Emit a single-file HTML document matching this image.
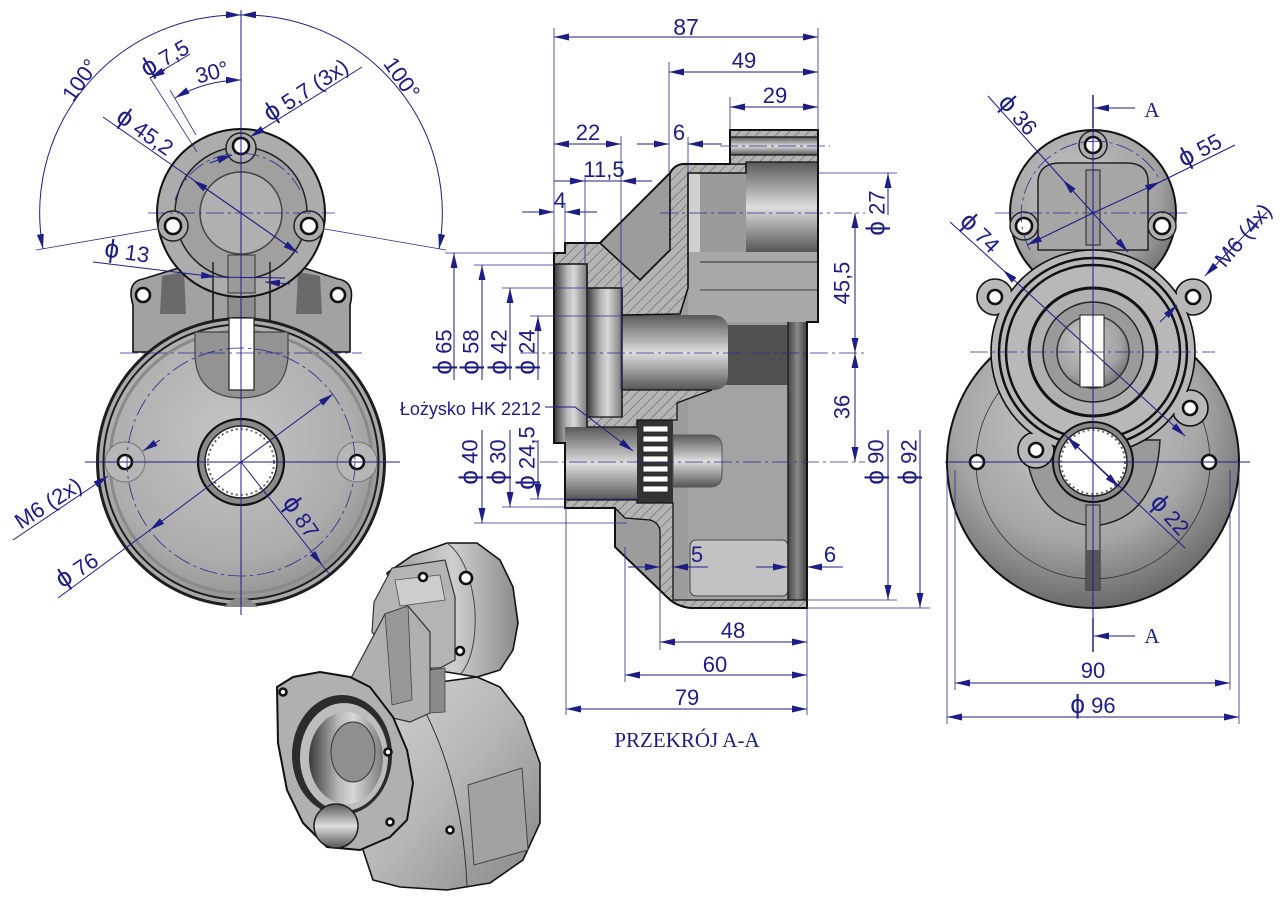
<!DOCTYPE html>
<html><head><meta charset="utf-8"><style>
html,body{margin:0;padding:0;background:#fff}
svg{display:block}
text{font-family:"Liberation Sans","DejaVu Sans",sans-serif;fill:#1d1d85;font-size:22px}
.p{font-size:26px}
.sf{font-family:"Liberation Serif",serif;font-size:21px}
.d{stroke:#1d1d85;stroke-width:1;fill:none}
.e{stroke:#2c2c8c;stroke-width:0.8;fill:none}
.c{stroke:#2c2c8c;stroke-width:0.8;fill:none;stroke-dasharray:18 4 3 4}
.k{stroke:#111;stroke-width:1.6}
.ho{fill:#fff;stroke:#111;stroke-width:2.6}
</style></head><body>
<svg width="1280" height="905" viewBox="0 0 1280 905" xmlns="http://www.w3.org/2000/svg">
<defs>
<marker id="a" viewBox="0 0 15 7" refX="15" refY="3.5" markerWidth="15" markerHeight="7" markerUnits="userSpaceOnUse" orient="auto-start-reverse"><path d="M0,0L15,3.5L0,7z" fill="#1d1d85"/></marker>
<pattern id="h" width="7" height="7" patternUnits="userSpaceOnUse" patternTransform="rotate(45)"><rect width="7" height="7" fill="#b4b4b4"/><line x1="0" y1="0" x2="0" y2="7" stroke="#4a4a4a" stroke-width="0.9"/></pattern>
<radialGradient id="gface" cx="45%" cy="40%" r="65%"><stop offset="0" stop-color="#c4c4c4"/><stop offset="0.7" stop-color="#adadad"/><stop offset="1" stop-color="#8e8e8e"/></radialGradient>
<radialGradient id="gbig" cx="45%" cy="35%" r="70%"><stop offset="0" stop-color="#cbcbcb"/><stop offset="0.6" stop-color="#a6a6a6"/><stop offset="1" stop-color="#5e5e5e"/></radialGradient>
<radialGradient id="gsm" cx="40%" cy="35%" r="70%"><stop offset="0" stop-color="#c4c4c4"/><stop offset="0.7" stop-color="#a2a2a2"/><stop offset="1" stop-color="#707070"/></radialGradient>
<linearGradient id="gv" x1="0" y1="0" x2="0" y2="1"><stop offset="0" stop-color="#5a5a5a"/><stop offset="0.35" stop-color="#b5b5b5"/><stop offset="0.5" stop-color="#dedede"/><stop offset="0.75" stop-color="#9a9a9a"/><stop offset="1" stop-color="#555"/></linearGradient>
<linearGradient id="gh" x1="0" y1="0" x2="1" y2="0"><stop offset="0" stop-color="#3a3a3a"/><stop offset="0.4" stop-color="#b8b8b8"/><stop offset="0.6" stop-color="#d8d8d8"/><stop offset="1" stop-color="#7a7a7a"/></linearGradient>
<linearGradient id="gdk" x1="0" y1="0" x2="1" y2="0"><stop offset="0" stop-color="#444"/><stop offset="0.5" stop-color="#8a8a8a"/><stop offset="1" stop-color="#3a3a3a"/></linearGradient>
<linearGradient id="giso" x1="0" y1="0" x2="1" y2="1"><stop offset="0" stop-color="#d4d4d4"/><stop offset="0.5" stop-color="#b6b6b6"/><stop offset="1" stop-color="#858585"/></linearGradient>
<linearGradient id="giso2" x1="0" y1="0" x2="1" y2="0"><stop offset="0" stop-color="#9a9a9a"/><stop offset="0.5" stop-color="#cfcfcf"/><stop offset="1" stop-color="#8a8a8a"/></linearGradient>
</defs>

<!-- ================= LEFT VIEW ================= -->
<g>
 <path d="M133,352 L133,305 Q126,282 143,279 L185,266 L298,266 L338,279 Q356,282 350,305 L350,352 Z" fill="#a2a2a2" class="k"/>
 <circle cx="143" cy="295" r="7" class="ho"/>
 <circle cx="338" cy="295" r="7" class="ho"/>
 <path d="M162,276 L184,272 L186,314 L160,314 Z" fill="#6a6a6a"/>
 <path d="M320,276 L298,272 L296,314 L322,314 Z" fill="#6a6a6a"/>
 <rect x="213" y="245" width="57" height="85" fill="#a0a0a0" class="k"/>
 <rect x="228" y="245" width="27" height="80" fill="#8e8e8e" stroke="#333" stroke-width="1"/>
 <!-- big disc -->
 <circle cx="241" cy="462" r="145" fill="#1e1e1e"/>
 <circle cx="241" cy="462" r="142" fill="#a9a9a9"/>
 <circle cx="241" cy="462" r="138.5" fill="#1e1e1e"/>
 <circle cx="241" cy="462" r="136.5" fill="url(#gface)"/>
 <circle cx="241" cy="462" r="131" fill="none" stroke="#8a8a8a" stroke-width="3"/>
 <path d="M195,332 L195,356 Q197,397 241,398 Q286,397 288,356 L288,332 Z" fill="#939393" stroke="#444" stroke-width="1.2"/>
 <rect x="229" y="318" width="25" height="72" fill="#fff" stroke="#222" stroke-width="1.2"/>
 <path d="M224,607 Q241,588 258,607 Z" fill="#8a8a8a"/>
 <circle cx="125" cy="462" r="20" fill="#b6b6b6" stroke="#777" stroke-width="1"/>
 <circle cx="357" cy="462" r="20" fill="#b6b6b6" stroke="#777" stroke-width="1"/>
 <circle cx="125" cy="462" r="7" class="ho"/>
 <circle cx="357" cy="462" r="7" class="ho"/>
 <circle cx="241" cy="462" r="43" fill="#8a8a8a" stroke="#111" stroke-width="2.2"/>
 <circle cx="241" cy="462" r="36" fill="#fff" stroke="#222" stroke-width="1.5"/>
 <circle cx="241" cy="462" r="33" fill="none" stroke="#666" stroke-width="2" stroke-dasharray="2 3"/>
 <!-- small disc -->
 <circle cx="241" cy="213" r="84" fill="#acacac" stroke="#111" stroke-width="2"/>
 <circle cx="241" cy="213" r="66" fill="#a0a0a0" stroke="#222" stroke-width="1.5"/>
 <circle cx="241" cy="148" r="15" fill="#acacac" stroke="#222" stroke-width="1.5"/>
 <circle cx="173" cy="226" r="15" fill="#acacac" stroke="#222" stroke-width="1.5"/>
 <circle cx="309" cy="226" r="15" fill="#acacac" stroke="#222" stroke-width="1.5"/>
 <circle cx="241" cy="213" r="41" fill="#b0b0b0" stroke="#444" stroke-width="1.5"/>
 <rect x="228" y="255" width="27" height="38" fill="#9a9a9a" stroke="#333" stroke-width="1"/>
 <path d="M213,262 L213,296 M270,262 L270,296" stroke="#222" stroke-width="1.5"/>
 <circle cx="241" cy="146" r="8" class="ho"/>
 <circle cx="173" cy="226" r="8" class="ho"/>
 <circle cx="309" cy="226" r="8" class="ho"/>
 <!-- centre lines -->
 <line x1="241" y1="10" x2="241" y2="615" class="d" stroke-width="0.9"/>
 <line x1="148" y1="213" x2="335" y2="213" class="c"/>
 <line x1="120" y1="353" x2="362" y2="353" class="c"/>
 <line x1="85" y1="462" x2="400" y2="462" class="d" stroke-width="0.8"/>
 <circle cx="241" cy="462" r="114" class="c"/>
 <path d="M175,200 A68,68 0 0 1 300,190" class="c"/>
 <!-- angle dims -->
 <path d="M43,249 A198,198 0 0 1 241,15" class="d" marker-start="url(#a)" marker-end="url(#a)"/>
 <path d="M439,249 A198,198 0 0 0 241,15" class="d" marker-start="url(#a)" marker-end="url(#a)"/>
 <line x1="157" y1="229" x2="36" y2="250" class="e"/>
 <line x1="325" y1="229" x2="446" y2="250" class="e"/>
 <path d="M175,98 A133,133 0 0 1 241,80" class="d" marker-start="url(#a)" marker-end="url(#a)"/>
 <line x1="196" y1="135" x2="170" y2="90" class="e"/>
 <line x1="190" y1="54" x2="150" y2="78" class="d"/>
 <line x1="150" y1="78" x2="197" y2="152" class="e"/>
 <line x1="165" y1="70" x2="150" y2="78" class="d" marker-end="url(#a)"/>
 <line x1="362" y1="67" x2="250" y2="137" class="d" marker-end="url(#a)"/>
 <line x1="210" y1="163" x2="232" y2="155" class="d" marker-end="url(#a)"/>
 <line x1="103" y1="117" x2="297" y2="252" class="d"/>
 <line x1="241" y1="213" x2="193" y2="180" class="d" marker-end="url(#a)"/>
 <line x1="241" y1="213" x2="298" y2="253" class="d" marker-end="url(#a)"/>
 <line x1="93" y1="262" x2="216" y2="277" class="d" marker-end="url(#a)"/>
 <line x1="290" y1="284" x2="265" y2="282" class="d" marker-end="url(#a)"/>
 <line x1="216" y1="277" x2="285" y2="278" class="d"/>
 <!-- lower dims -->
 <line x1="13" y1="540" x2="108" y2="476" class="d" marker-end="url(#a)"/>
 <line x1="160" y1="440" x2="143" y2="451" class="d" marker-end="url(#a)"/>
 <line x1="58" y1="598" x2="150" y2="530" class="d"/>
 <line x1="241" y1="462" x2="150" y2="530" class="d" marker-end="url(#a)"/>
 <line x1="241" y1="462" x2="333" y2="394" class="d" marker-end="url(#a)"/>
 <line x1="241" y1="462" x2="322" y2="565" class="d" marker-end="url(#a)"/>
 <line x1="322" y1="565" x2="330" y2="575" class="d"/>
 <!-- labels -->
 <text x="80" y="80" dy="0.35em" text-anchor="middle" transform="rotate(-55 80 80)">100°</text>
 <text x="402" y="78" dy="0.35em" text-anchor="middle" transform="rotate(55 402 78)">100°</text>
 <text x="165" y="58" dy="0.35em" text-anchor="middle" transform="rotate(-30 165 58)"><tspan class="p">ϕ</tspan> 7,5</text>
 <text x="212" y="72" dy="0.35em" text-anchor="middle" transform="rotate(-15 212 72)">30°</text>
 <text x="306" y="90" dy="0.35em" text-anchor="middle" transform="rotate(-33 306 90)"><tspan class="p">ϕ</tspan> 5,7  (3x)</text>
 <text x="145" y="132" dy="0.35em" text-anchor="middle" transform="rotate(35 145 132)"><tspan class="p">ϕ</tspan> 45,2</text>
 <text x="127" y="252" dy="0.35em" text-anchor="middle" transform="rotate(8 127 252)"><tspan class="p">ϕ</tspan> 13</text>
 <text x="48" y="503" dy="0.35em" text-anchor="middle" transform="rotate(-33 48 503)">M6  (2x)</text>
 <text x="77" y="570" dy="0.35em" text-anchor="middle" transform="rotate(-33 77 570)"><tspan class="p">ϕ</tspan> 76</text>
 <text x="301" y="517" dy="0.35em" text-anchor="middle" transform="rotate(55 301 517)"><tspan class="p">ϕ</tspan> 87</text>
</g>

<!-- ================= ISO VIEW ================= -->
<g>
 <!-- big body -->
 <path d="M403,703 L433,683 L477,677 L500,687 L523,717 L540,763 L540,823 L523,860 L490,883 L447,890 L400,887 L373,880 L363,850 L363,763 Z" fill="url(#giso)" class="k"/>
 <path d="M413,690 Q462,770 467,886" fill="none" stroke="#333" stroke-width="1"/>
 <path d="M468,785 L522,768 L528,850 L474,865 Z" fill="#a2a2a2" stroke="#444" stroke-width="1"/>
 <!-- top cylinder -->
 <path d="M387,573 L413,555 L447,543 L477,543 L500,560 L513,587 L518,623 L513,650 L500,670 L477,677 L453,673 L420,668 Z" fill="url(#giso2)" class="k"/>
 <path d="M447,543 Q470,560 475,610 Q477,655 460,675" fill="none" stroke="#444" stroke-width="1"/>
 <path d="M392,568 L445,560 L455,597 L455,660 L440,668 L400,668 L372,632 L374,602 Z" fill="#b4b4b4" stroke="#333" stroke-width="1.2"/>
 <path d="M395,580 L440,575 L445,600 L400,606 Z" fill="#cdcdcd" stroke="#555" stroke-width="0.8"/>
 <circle cx="466" cy="578" r="6" class="ho"/>
 <circle cx="423" cy="577" r="4" class="ho"/>
 <circle cx="460" cy="651" r="4" class="ho"/>
 <!-- rib -->
 <path d="M350,680 L385,614 L408,606 L430,632 L430,713 L410,722 L380,715 Z" fill="#b0b0b0" stroke="#333" stroke-width="1.2"/>
 <path d="M385,614 L408,606 L412,700 L392,705 Z" fill="#989898" stroke="#444" stroke-width="0.8"/>
 <path d="M430,670 L445,668 L445,712 L430,713 Z" fill="#8a8a8a" stroke="#444" stroke-width="0.8"/>
 <!-- front flange -->
 <path d="M277,687 L293,677 L320,672 L350,677 L370,687 L393,717 L407,750 L413,783 L407,820 L390,837 L360,850 L327,847 L303,823 L287,790 L278,743 Z" fill="#b0b0b0" stroke="#111" stroke-width="2"/>
 <ellipse cx="342" cy="755" rx="50" ry="60" fill="#2c2c2c"/>
 <ellipse cx="344" cy="757" rx="44" ry="54" fill="#bdbdbd"/>
 <ellipse cx="346" cy="758" rx="37" ry="46" fill="url(#gh)"/>
 <ellipse cx="353" cy="752" rx="22" ry="30" fill="#8f8f8f" stroke="#333" stroke-width="1"/>
 <ellipse cx="336" cy="826" rx="22" ry="22" fill="url(#gv)" stroke="#222" stroke-width="1.5"/>
 <circle cx="283" cy="692" r="3.5" class="ho"/>
 <circle cx="388" cy="752" r="3.5" class="ho"/>
 <circle cx="390" cy="822" r="3.5" class="ho"/>
 <circle cx="450" cy="830" r="3.5" class="ho"/>
</g>

<!-- ================= SECTION VIEW ================= -->
<g>
 <path d="M554,253 L565,253 L565,243 L600,243 L670,173 Q675,164 684,164 L730,164 L730,130 L818,130 L818,322 L807,322 L807,608 L690,608 Q676,606 668,598 L615,547 L615,508 L565,508 L565,443 L554,443 Z" fill="#9c9c9c"/>
 <rect x="730" y="137" width="88" height="18" fill="url(#gv)"/>
 <rect x="746" y="162" width="72" height="90" fill="url(#gv)"/>
 <rect x="688" y="173" width="58" height="80" fill="#9a9a9a"/>
 <rect x="688" y="173" width="12" height="80" fill="#d0d0d0"/>
 <rect x="688" y="252" width="130" height="70" fill="#a8a8a8"/>
 <line x1="700" y1="262" x2="818" y2="262" stroke="#555" stroke-width="1.5"/>
 <line x1="700" y1="290" x2="818" y2="290" stroke="#555" stroke-width="1.2"/>
 <rect x="725" y="325" width="63" height="60" fill="#505050"/>
 <rect x="688" y="385" width="100" height="215" fill="#a3a3a3"/>
 <rect x="690" y="540" width="98" height="56" rx="6" fill="#c2c2c2" stroke="#444" stroke-width="1"/>
 <rect x="788" y="322" width="19" height="278" fill="url(#gdk)"/>
 <rect x="554" y="264" width="33" height="179" fill="url(#gh)"/>
 <rect x="587" y="288" width="35" height="129" fill="url(#gh)"/>
 <path d="M622,315 L712,315 Q728,315 728,330 L728,375 Q728,390 712,390 L622,390 Z" fill="url(#gv)"/>
 <rect x="565" y="427" width="72" height="73" fill="url(#gv)"/>
 <rect x="637" y="420" width="36" height="83" fill="#333"/>
 <g fill="#fff" stroke="#222" stroke-width="0.8">
  <rect x="643" y="426" width="25" height="6"/><rect x="643" y="436" width="25" height="6"/><rect x="643" y="446" width="25" height="6"/><rect x="643" y="456" width="25" height="6"/><rect x="643" y="466" width="25" height="6"/><rect x="643" y="476" width="25" height="6"/><rect x="643" y="486" width="25" height="6"/>
 </g>
 <path d="M673,435 L710,435 Q722,435 722,448 L722,474 Q722,487 710,487 L673,487 Z" fill="url(#gv)" stroke="#555" stroke-width="1"/>
 <!-- hatched -->
 <path d="M554,253 L565,253 L565,243 L600,243 L640,280 L670,250 L670,173 Q675,164 684,164 L746,164 L746,173 L688,173 L688,288 L680,314 L622,315 L622,288 L587,288 L587,264 L554,264 Z" fill="url(#h)" class="k" stroke-width="1.3"/>
 <path d="M730,130 L818,130 L818,137 L730,137 Z" fill="url(#h)" stroke="#111" stroke-width="1.2"/>
 <path d="M730,155 L818,155 L818,162 L746,162 L746,164 L730,164 Z" fill="url(#h)" stroke="#111" stroke-width="1.2"/>
 <path d="M622,390 L712,390 Q690,398 677,403 L677,420 L637,420 L637,427 L587,427 L587,417 L622,417 Z" fill="url(#h)" stroke="#111" stroke-width="1.3"/>
 <path d="M565,500 L637,500 L637,503 L673,503 L673,600 L807,600 L807,608 L690,608 Q676,606 668,598 L660,590 L660,530 Q658,522 650,520 L625,518 L615,508 L565,508 Z" fill="url(#h)" stroke="#111" stroke-width="1.3"/>
 <path d="M554,253 L565,253 L565,243 L600,243 L670,173 Q675,164 684,164 L730,164 L730,130 L818,130 L818,322 L807,322 L807,608 L690,608 Q676,606 668,598 L615,547 L615,508 L565,508 L565,443 L554,443 Z" fill="none" stroke="#111" stroke-width="2"/>
 <line x1="587" y1="264" x2="587" y2="427" stroke="#222" stroke-width="1.5"/>
 <line x1="622" y1="288" x2="622" y2="417" stroke="#222" stroke-width="1.5"/>
 <line x1="788" y1="322" x2="788" y2="600" stroke="#222" stroke-width="1.5"/>
 <!-- top dims -->
 <line x1="554" y1="28" x2="554" y2="253" class="e"/>
 <line x1="818" y1="28" x2="818" y2="130" class="e"/>
 <line x1="669" y1="62" x2="669" y2="172" class="e"/>
 <line x1="730" y1="97" x2="730" y2="130" class="e"/>
 <line x1="621" y1="136" x2="621" y2="390" class="e"/>
 <line x1="688" y1="137" x2="688" y2="173" class="e"/>
 <line x1="585" y1="175" x2="585" y2="264" class="e"/>
 <line x1="565" y1="205" x2="565" y2="243" class="e"/>
 <line x1="554" y1="37" x2="818" y2="37" class="d" marker-start="url(#a)" marker-end="url(#a)"/>
 <line x1="669" y1="72" x2="818" y2="72" class="d" marker-start="url(#a)" marker-end="url(#a)"/>
 <line x1="730" y1="107" x2="818" y2="107" class="d" marker-start="url(#a)" marker-end="url(#a)"/>
 <line x1="554" y1="144" x2="621" y2="144" class="d" marker-start="url(#a)" marker-end="url(#a)"/>
 <line x1="637" y1="144" x2="669" y2="144" class="d" marker-end="url(#a)"/>
 <line x1="722" y1="144" x2="688" y2="144" class="d" marker-end="url(#a)"/>
 <line x1="554" y1="181" x2="585" y2="181" class="d" marker-end="url(#a)"/>
 <line x1="652" y1="181" x2="621" y2="181" class="d" marker-end="url(#a)"/>
 <line x1="585" y1="181" x2="621" y2="181" class="d"/>
 <line x1="522" y1="212" x2="554" y2="212" class="d" marker-end="url(#a)"/>
 <line x1="597" y1="212" x2="565" y2="212" class="d" marker-end="url(#a)"/>
 <text x="686" y="35" text-anchor="middle" style="font-size:23px">87</text>
 <text x="744" y="68" text-anchor="middle">49</text>
 <text x="775" y="103" text-anchor="middle">29</text>
 <text x="588" y="140" text-anchor="middle">22</text>
 <text x="679" y="140" text-anchor="middle">6</text>
 <text x="604" y="177" text-anchor="middle">11,5</text>
 <text x="560" y="208" text-anchor="middle">4</text>
 <!-- centre lines -->
 <line x1="660" y1="213" x2="865" y2="213" class="c"/>
 <line x1="720" y1="146" x2="830" y2="146" class="c"/>
 <line x1="520" y1="353" x2="865" y2="353" class="c"/>
 <line x1="540" y1="462" x2="865" y2="462" class="c"/>
 <!-- left vertical dims -->
 <line x1="445" y1="253" x2="554" y2="253" class="e"/>
 <line x1="474" y1="265" x2="554" y2="265" class="e"/>
 <line x1="502" y1="288" x2="587" y2="288" class="e"/>
 <line x1="530" y1="316" x2="622" y2="316" class="e"/>
 <line x1="454" y1="380" x2="454" y2="253" class="d" marker-end="url(#a)"/>
 <line x1="482" y1="380" x2="482" y2="265" class="d" marker-end="url(#a)"/>
 <line x1="510" y1="380" x2="510" y2="288" class="d" marker-end="url(#a)"/>
 <line x1="538" y1="380" x2="538" y2="316" class="d" marker-end="url(#a)"/>
 <line x1="474" y1="523" x2="627" y2="523" class="e"/>
 <line x1="502" y1="507" x2="567" y2="507" class="e"/>
 <line x1="530" y1="499" x2="637" y2="499" class="e"/>
 <line x1="482" y1="430" x2="482" y2="523" class="d" marker-end="url(#a)"/>
 <line x1="510" y1="430" x2="510" y2="507" class="d" marker-end="url(#a)"/>
 <line x1="538" y1="440" x2="538" y2="499" class="d" marker-end="url(#a)"/>
 <text x="444" y="352" dy="0.35em" text-anchor="middle" transform="rotate(-90 444 352)"><tspan class="p">ϕ</tspan> 65</text>
 <text x="471" y="352" dy="0.35em" text-anchor="middle" transform="rotate(-90 471 352)"><tspan class="p">ϕ</tspan> 58</text>
 <text x="499" y="352" dy="0.35em" text-anchor="middle" transform="rotate(-90 499 352)"><tspan class="p">ϕ</tspan> 42</text>
 <text x="527" y="352" dy="0.35em" text-anchor="middle" transform="rotate(-90 527 352)"><tspan class="p">ϕ</tspan> 24</text>
 <text x="470" y="462" dy="0.35em" text-anchor="middle" transform="rotate(-90 470 462)"><tspan class="p">ϕ</tspan> 40</text>
 <text x="498" y="462" dy="0.35em" text-anchor="middle" transform="rotate(-90 498 462)"><tspan class="p">ϕ</tspan> 30</text>
 <text x="527" y="458" dy="0.35em" text-anchor="middle" transform="rotate(-90 527 458)"><tspan class="p">ϕ</tspan> 24,5</text>
 <polyline points="545,407 575,407 633,451" class="d" marker-end="url(#a)"/>
 <text x="541" y="415" text-anchor="end" style="font-size:18px">Łożysko HK 2212</text>
 <!-- right dims -->
 <line x1="818" y1="173" x2="897" y2="173" class="e"/>
 <line x1="888" y1="215" x2="888" y2="173" class="d" marker-end="url(#a)"/>
 <line x1="855" y1="213" x2="855" y2="353" class="d" marker-start="url(#a)" marker-end="url(#a)"/>
 <line x1="855" y1="353" x2="855" y2="462" class="d" marker-start="url(#a)" marker-end="url(#a)"/>
 <line x1="888" y1="430" x2="888" y2="600" class="d" marker-end="url(#a)"/>
 <line x1="920" y1="430" x2="920" y2="608" class="d" marker-end="url(#a)"/>
 <line x1="807" y1="600" x2="897" y2="600" class="e"/>
 <line x1="807" y1="608" x2="930" y2="608" class="e"/>
 <text x="877" y="213" dy="0.35em" text-anchor="middle" transform="rotate(-90 877 213)"><tspan class="p">ϕ</tspan> 27</text>
 <text x="842" y="283" dy="0.35em" text-anchor="middle" transform="rotate(-90 842 283)">45,5</text>
 <text x="842" y="407" dy="0.35em" text-anchor="middle" transform="rotate(-90 842 407)">36</text>
 <text x="876" y="462" dy="0.35em" text-anchor="middle" transform="rotate(-90 876 462)"><tspan class="p">ϕ</tspan> 90</text>
 <text x="909" y="462" dy="0.35em" text-anchor="middle" transform="rotate(-90 909 462)"><tspan class="p">ϕ</tspan> 92</text>
 <!-- bottom dims -->
 <line x1="566" y1="508" x2="566" y2="715" class="e"/>
 <line x1="625" y1="547" x2="625" y2="682" class="e"/>
 <line x1="660" y1="590" x2="660" y2="650" class="e"/>
 <line x1="807" y1="608" x2="807" y2="715" class="e"/>
 <line x1="628" y1="567" x2="660" y2="567" class="d" marker-end="url(#a)"/>
 <line x1="708" y1="567" x2="673" y2="567" class="d" marker-end="url(#a)"/>
 <line x1="756" y1="567" x2="788" y2="567" class="d" marker-end="url(#a)"/>
 <line x1="843" y1="567" x2="807" y2="567" class="d" marker-end="url(#a)"/>
 <line x1="660" y1="642" x2="807" y2="642" class="d" marker-start="url(#a)" marker-end="url(#a)"/>
 <line x1="625" y1="675" x2="807" y2="675" class="d" marker-start="url(#a)" marker-end="url(#a)"/>
 <line x1="566" y1="709" x2="807" y2="709" class="d" marker-start="url(#a)" marker-end="url(#a)"/>
 <text x="697" y="562" text-anchor="middle">5</text>
 <text x="830" y="562" text-anchor="middle">6</text>
 <text x="733" y="638" text-anchor="middle">48</text>
 <text x="715" y="672" text-anchor="middle">60</text>
 <text x="687" y="705" text-anchor="middle">79</text>
 <text x="687" y="747" text-anchor="middle" class="sf">PRZEKRÓJ A-A</text>
</g>

<!-- ================= RIGHT VIEW ================= -->
<g>
 <circle cx="1093" cy="462" r="146" fill="url(#gbig)" stroke="#111" stroke-width="2"/>
 <circle cx="1093" cy="462" r="117" fill="none" stroke="#333" stroke-width="0.8"/>
 <circle cx="977" cy="462" r="7" class="ho"/>
 <circle cx="1209" cy="462" r="7" class="ho"/>
 <path d="M1025,440 Q1030,520 1093,526 Q1156,520 1160,440 Z" fill="#9a9a9a" stroke="#222" stroke-width="1.5"/>
 <rect x="1086" y="505" width="14" height="85" fill="#9a9a9a" stroke="#222" stroke-width="1"/>
 <rect x="1086" y="550" width="14" height="40" fill="#555"/>
 <!-- upper disc -->
 <circle cx="1093" cy="213" r="83" fill="url(#gsm)" stroke="#111" stroke-width="2"/>
 <path d="M1038,180 Q1040,163 1060,163 L1126,163 Q1147,163 1148,180 L1148,250 L1038,250 Z" fill="#a6a6a6" stroke="#222" stroke-width="1.5"/>
 <rect x="1086" y="170" width="14" height="75" fill="#9a9a9a" stroke="#222" stroke-width="1"/>
 <circle cx="1093" cy="145" r="14" fill="#b0b0b0" stroke="#222" stroke-width="1.5"/>
 <circle cx="1024" cy="226" r="14" fill="#b0b0b0" stroke="#222" stroke-width="1.5"/>
 <circle cx="1162" cy="226" r="14" fill="#b0b0b0" stroke="#222" stroke-width="1.5"/>
 <circle cx="1093" cy="145" r="8" class="ho"/>
 <circle cx="1024" cy="226" r="8" class="ho"/>
 <circle cx="1162" cy="226" r="8" class="ho"/>
 <!-- flange -->
 <g fill="#b8b8b8" stroke="#111" stroke-width="1.6">
  <circle cx="995" cy="297" r="18"/><circle cx="1193" cy="297" r="18"/><circle cx="1190" cy="408" r="18"/><circle cx="1036" cy="450" r="18"/>
 </g>
 <circle cx="1093" cy="352" r="102" fill="#b8b8b8" stroke="#111" stroke-width="1.6"/>
 <g fill="#b8b8b8" stroke="none">
  <circle cx="995" cy="297" r="16.5"/><circle cx="1193" cy="297" r="16.5"/><circle cx="1190" cy="408" r="16.5"/><circle cx="1036" cy="450" r="16.5"/>
 </g>
 <circle cx="1093" cy="352" r="94" fill="none" stroke="#111" stroke-width="2.5"/>
 <circle cx="1093" cy="352" r="87" fill="none" stroke="#111" stroke-width="2.5"/>
 <circle cx="1093" cy="352" r="64" fill="#b0b0b0" stroke="#111" stroke-width="3"/>
 <circle cx="1093" cy="352" r="50" fill="#9a9a9a" stroke="#222" stroke-width="1.5"/>
 <circle cx="1093" cy="352" r="36" fill="url(#gsm)" stroke="#333" stroke-width="1.5"/>
 <rect x="1080" y="315" width="24" height="72" fill="#fff" stroke="#222" stroke-width="1"/>
 <circle cx="995" cy="297" r="7" class="ho"/>
 <circle cx="1193" cy="297" r="7" class="ho"/>
 <circle cx="1190" cy="408" r="7" class="ho"/>
 <circle cx="1036" cy="450" r="7" class="ho"/>
 <circle cx="1093" cy="462" r="40" fill="#8a8a8a" stroke="#111" stroke-width="2"/>
 <circle cx="1093" cy="462" r="34" fill="#fff" stroke="#222" stroke-width="1.5"/>
 <circle cx="1093" cy="462" r="32" fill="none" stroke="#666" stroke-width="2" stroke-dasharray="2 3"/>
 <!-- centre lines -->
 <line x1="1093" y1="95" x2="1093" y2="128" stroke="#1d1d85" stroke-width="1.5"/>
 <line x1="1093" y1="128" x2="1093" y2="618" class="d" stroke-width="0.9"/>
 <line x1="1093" y1="618" x2="1093" y2="652" stroke="#1d1d85" stroke-width="1.5"/>
 <line x1="1135" y1="108" x2="1094" y2="108" class="d" stroke-width="1.4" marker-end="url(#a)"/>
 <line x1="1135" y1="636" x2="1094" y2="636" class="d" stroke-width="1.4" marker-end="url(#a)"/>
 <text x="1152" y="117" text-anchor="middle" class="sf">A</text>
 <text x="1152" y="643" text-anchor="middle" class="sf">A</text>
 <line x1="995" y1="213" x2="1190" y2="213" class="c"/>
 <line x1="970" y1="352" x2="1215" y2="352" class="c"/>
 <line x1="945" y1="462" x2="1250" y2="462" class="d" stroke-width="0.8"/>
 <path d="M1030,250 A70,70 0 0 1 1160,180" class="c"/>
 <!-- dims -->
 <line x1="988" y1="96" x2="1063" y2="180" class="d"/>
 <line x1="1093" y1="213" x2="1063" y2="180" class="d" marker-end="url(#a)"/>
 <line x1="1093" y1="213" x2="1128" y2="252" class="d" marker-end="url(#a)"/>
 <line x1="1235" y1="145" x2="1160" y2="182" class="d"/>
 <line x1="1093" y1="213" x2="1160" y2="182" class="d" marker-end="url(#a)"/>
 <line x1="1093" y1="213" x2="1027" y2="245" class="d" marker-end="url(#a)"/>
 <line x1="950" y1="222" x2="1003" y2="270" class="d"/>
 <line x1="1093" y1="352" x2="1003" y2="270" class="d" marker-end="url(#a)"/>
 <line x1="1093" y1="352" x2="1185" y2="436" class="d" marker-end="url(#a)"/>
 <line x1="1267" y1="212" x2="1205" y2="276" class="d" marker-end="url(#a)"/>
 <line x1="1160" y1="322" x2="1177" y2="305" class="d" marker-end="url(#a)"/>
 <line x1="1065" y1="435" x2="1185" y2="548" class="d"/>
 <line x1="1093" y1="462" x2="1067" y2="437" class="d" marker-end="url(#a)"/>
 <line x1="1093" y1="462" x2="1119" y2="487" class="d" marker-end="url(#a)"/>
 <line x1="955" y1="470" x2="955" y2="690" class="e"/>
 <line x1="1230" y1="470" x2="1230" y2="690" class="e"/>
 <line x1="947" y1="470" x2="947" y2="724" class="e"/>
 <line x1="1239" y1="462" x2="1239" y2="724" class="e"/>
 <line x1="955" y1="683" x2="1230" y2="683" class="d" marker-start="url(#a)" marker-end="url(#a)"/>
 <line x1="947" y1="717" x2="1239" y2="717" class="d" marker-start="url(#a)" marker-end="url(#a)"/>
 <text x="1093" y="678" text-anchor="middle">90</text>
 <text x="1093" y="713" text-anchor="middle"><tspan class="p">ϕ</tspan> 96</text>
 <text x="1018" y="115" dy="0.35em" text-anchor="middle" transform="rotate(48 1018 115)"><tspan class="p">ϕ</tspan> 36</text>
 <text x="1200" y="150" dy="0.35em" text-anchor="middle" transform="rotate(-28 1200 150)"><tspan class="p">ϕ</tspan> 55</text>
 <text x="980" y="233" dy="0.35em" text-anchor="middle" transform="rotate(45 980 233)"><tspan class="p">ϕ</tspan> 74</text>
 <text x="1243" y="235" dy="0.35em" text-anchor="middle" transform="rotate(-50 1243 235)">M6  (4x)</text>
 <text x="1170" y="515" dy="0.35em" text-anchor="middle" transform="rotate(48 1170 515)"><tspan class="p">ϕ</tspan> 22</text>
</g>
</svg>
</body></html>
